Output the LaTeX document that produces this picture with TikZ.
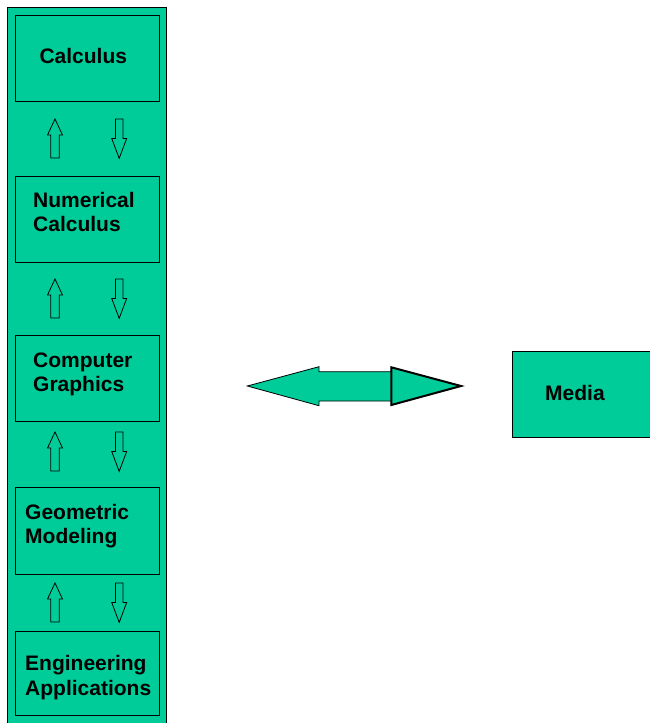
\documentclass[tikz,border=0pt]{standalone}
\usepackage{fontspec}
\setmainfont{Liberation Sans}
\definecolor{teal}{RGB}{0,204,153}
\tikzset{
  box/.style={draw=black, fill=teal, line width=0.9pt, rectangle, inner sep=0pt, anchor=north west},
  lbl/.style={anchor=base west, inner sep=0pt, align=left, font=\fontsize{21}{24.3}\selectfont\bfseries},
  blockarrow/.style={draw=black, fill=teal, line width=0.8pt, line join=miter},
  uparr/.pic={\draw[blockarrow] (0,0) -- (7.5,16) -- (4.2,16) -- (4.2,39) -- (-4.2,39) -- (-4.2,16) -- (-7.5,16) -- cycle;},
  downarr/.pic={\draw[blockarrow] (-3.8,0) -- (3.8,0) -- (3.8,19.4) -- (7.5,19.4) -- (0,39.4) -- (-7.5,19.4) -- (-3.8,19.4) -- cycle;}
}
\begin{document}
\begin{tikzpicture}[x=1pt,y=-1pt]
\useasboundingbox (0,0) rectangle (650,723);
% outer column
\node[box, line width=1.1pt, minimum width=158.7pt, minimum height=740pt] (col) at (7.3,6.7) {};
% inner boxes
\node[box, minimum width=143.4pt, minimum height=86pt] (calc) at (15.3,15) {};
\node[box, minimum width=143.4pt, minimum height=86pt] (num) at (15.3,175.7) {};
\node[box, minimum width=143.4pt, minimum height=86pt] (cg) at (15.3,335.3) {};
\node[box, minimum width=143.4pt, minimum height=86.7pt] (gm) at (15.3,487.3) {};
\node[box, minimum width=143.4pt, minimum height=84.5pt] (ea) at (15.3,630.7) {};
% labels (base = baseline of last line)
\node[lbl] (tcalc) at (39.3,63.3) {Calculus};
\node[lbl] (tnum) at (33,231.7) {Numerical\\Calculus};
\node[lbl] (tcg) at (33,391.5) {Computer\\Graphics};
\node[lbl] (tgm) at (25,543.3) {Geometric\\Modeling};
\node[lbl] (tea) at (25,695) {Engineering\\Applications};
% small up/down arrows
\foreach \y in {119,279,432,583}{
  \pic at (55,\y) {uparr};
  \pic at (119.2,\y) {downarr};
}
% media box
\node[box, minimum width=137.8pt, minimum height=86.3pt] (media) at (511.7,351) {};
\node[lbl] (tmedia) at (545,400.7) {Media};
% big double arrow
\draw[blockarrow] (247.3,386) -- (319,366.7) -- (319,371.7) -- (391.3,371.7) -- (391.3,367.3)
  -- (461,386) -- (391.3,405) -- (391.3,401) -- (319,401) -- (319,405.7) -- cycle;
\draw[blockarrow, line width=2pt] (391.3,367.3) -- (461,386) -- (391.3,405) -- cycle;
\end{tikzpicture}
\end{document}
